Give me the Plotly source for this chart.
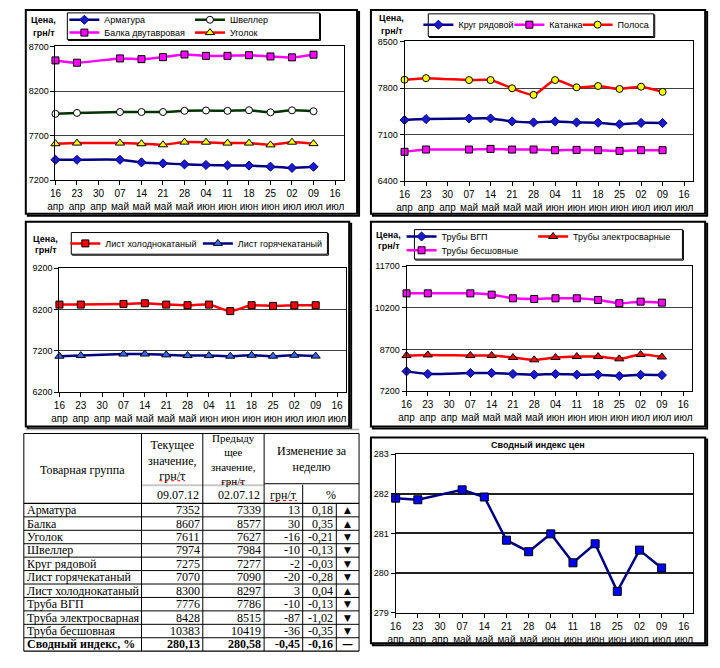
import plotly.graph_objects as go

W, H = 720, 668
def fx(p): return p / W
def fy(p): return 1 - p / H

# ---------------- data ----------------
dates = ["2012-04-16", "2012-04-23", "2012-05-07", "2012-05-14", "2012-05-21", "2012-05-28",
         "2012-06-04", "2012-06-11", "2012-06-18", "2012-06-25", "2012-07-02", "2012-07-09"]
tick_dates = ["2012-04-16", "2012-04-23", "2012-04-30", "2012-05-07", "2012-05-14", "2012-05-21",
              "2012-05-28", "2012-06-04", "2012-06-11", "2012-06-18", "2012-06-25", "2012-07-02",
              "2012-07-09", "2012-07-16"]
tick_labels = ["16<br>апр", "23<br>апр", "30<br>апр", "07<br>май", "14<br>май", "21<br>май",
               "28<br>май", "04<br>июн", "11<br>июн", "18<br>июн", "25<br>июн", "02<br>июл",
               "09<br>июл", "16<br>июл"]

armatura = [7430, 7430, 7430, 7401, 7390, 7379, 7372, 7368, 7365, 7353, 7339, 7352]
balka = [8543, 8517, 8565, 8557, 8579, 8609, 8594, 8594, 8601, 8587, 8577, 8607]
shveller = [7945, 7955, 7965, 7965, 7965, 7978, 7982, 7978, 7985, 7962, 7984, 7974]
ugolok = [7610, 7617, 7617, 7610, 7598, 7628, 7627, 7617, 7617, 7597, 7627, 7611]

krug = [7320, 7334, 7344, 7344, 7300, 7285, 7300, 7285, 7280, 7256, 7277, 7275]
katanka = [6843, 6877, 6877, 6887, 6877, 6877, 6867, 6872, 6867, 6857, 6867, 6867]
polosa = [7925, 7949, 7920, 7920, 7797, 7698, 7920, 7811, 7831, 7787, 7821, 7743]

list_hk = [8316, 8316, 8332, 8347, 8316, 8300, 8316, 8158, 8300, 8284, 8297, 8300]
list_gk = [7068, 7083, 7120, 7120, 7100, 7083, 7083, 7068, 7090, 7068, 7090, 7070]

truby_vgp = [7911, 7817, 7852, 7852, 7817, 7793, 7817, 7793, 7793, 7745, 7786, 7776]
truby_es = [8480, 8503, 8480, 8480, 8409, 8326, 8409, 8444, 8444, 8361, 8515, 8428]
truby_bs = [10717, 10717, 10717, 10670, 10540, 10516, 10540, 10540, 10480, 10362, 10419, 10383]

index_vals = [281.89, 281.85, 282.10, 281.92, 280.83, 280.54, 280.99, 280.26, 280.74, 279.54, 280.58, 280.13]

# table
table_groups = ["Арматура", "Балка", "Уголок", "Швеллер", "Круг рядовой", "Лист горячекатаный",
                "Лист холоднокатаный", "Труба ВГП", "Труба электросварная", "Труба бесшовная"]
table_current = [7352, 8607, 7611, 7974, 7275, 7070, 8300, 7776, 8428, 10383]
table_previous = [7339, 8577, 7627, 7984, 7277, 7090, 8297, 7786, 8515, 10419]
table_change = [13, 30, -16, -10, -2, -20, 3, -10, -87, -36]
table_pct = [0.18, 0.35, -0.21, -0.13, -0.03, -0.28, 0.04, -0.13, -1.02, -0.35]
table_arrow = ["▲", "▲", "▼", "▼", "▼", "▼", "▲", "▼", "▼", "▼"]
summary_name = "Сводный индекс, %"
summary_current = 280.13
summary_previous = 280.58
summary_change = -0.45
summary_pct = -0.16
summary_arrow = "—"
date_current = "09.07.12"
date_previous = "02.07.12"

# ---------------- styling ----------------
SANS = "Liberation Sans"
SERIF = "Liberation Serif"
NAVY = "#000080"
BLUE = "#0000ff"
MAG = "#ff00ff"
RED = "#ff0000"
GREEN = "#003300"

fig = go.Figure()

# series: (name, values, axis idx, line color, marker symbol, marker fill, text_x, text_y, size)
series = [
    ("Арматура", armatura, 1, NAVY, "diamond", "#1a1acc", 97, 15, 7),
    ("Балка двутавровая", balka, 1, MAG, "square", MAG, 97, 28, 7),
    ("Швеллер", shveller, 1, GREEN, "circle", "white", 224, 15, 7),
    ("Уголок", ugolok, 1, RED, "triangle-up", "#ffff00", 224, 28, 8),
    ("Круг рядовой", krug, 2, NAVY, "diamond", "#1a1acc", 455, 20, 7),
    ("Катанка", katanka, 2, MAG, "square", MAG, 547, 20, 7),
    ("Полоса", polosa, 2, RED, "circle", "#ffff00", 616, 20, 7),
    ("Лист холоднокатаный", list_hk, 3, RED, "square", RED, 98, 242, 7),
    ("Лист горячекатаный", list_gk, 3, NAVY, "triangle-up", "#3366ff", 232, 242, 8),
    ("Трубы ВГП", truby_vgp, 4, NAVY, "diamond", "#1a1acc", 438, 235, 7),
    ("Трубы электросварные", truby_es, 4, RED, "triangle-up", RED, 571, 235, 8),
    ("Трубы бесшовные", truby_bs, 4, MAG, "square", MAG, 438, 249, 7),
]

legends = {}
for i, (name, vals, ax, lc, sym, mf, tx, ty, ms) in enumerate(series):
    lid = "legend" if i == 0 else f"legend{i+1}"
    suffix = "" if ax == 1 else str(ax)
    fig.add_trace(go.Scatter(
        x=dates, y=vals, name=name, mode="lines+markers",
        line=dict(color=lc, width=2.5, shape="spline", smoothing=0.6),
        marker=dict(symbol=sym, size=ms, color=mf,
                    line=dict(color="black" if mf != "#1a1acc" else lc, width=1)),
        xaxis="x" + suffix, yaxis="y" + suffix, legend=lid, cliponaxis=False,
        hoverinfo="skip"))
    legends[lid] = dict(x=fx(tx - 40), y=fy(ty), xanchor="left", yanchor="middle",
                        bgcolor="rgba(0,0,0,0)", borderwidth=0, itemwidth=30,
                        font=dict(family=SANS, size=9, color="black"),
                        itemclick=False, itemdoubleclick=False)

fig.add_trace(go.Scatter(
    x=dates, y=index_vals, name="Сводный индекс цен", mode="lines+markers",
    line=dict(color=NAVY, width=2.5), showlegend=False,
    marker=dict(symbol="square", size=8, color=BLUE, line=dict(color="black", width=1)),
    xaxis="x5", yaxis="y5", cliponaxis=False, hoverinfo="skip"))

# ---------------- axes ----------------
def xax(x0, x1, anchor):
    return dict(type="date", domain=[fx(x0), fx(x1)], range=["2012-04-16", "2012-07-19"],
                tickmode="array", tickvals=tick_dates, ticktext=tick_labels,
                ticks="outside", ticklen=4, tickcolor="black", showline=True,
                linecolor="black", linewidth=1, mirror=True, showgrid=False, zeroline=False,
                tickfont=dict(family=SANS, size=10, color="black"), anchor=anchor,
                fixedrange=True)

def yax(y_top, y_bot, rng, tv, anchor, gridw=1, gridc="#404040"):
    return dict(domain=[fy(y_bot), fy(y_top)], range=rng, tickmode="array", tickvals=tv,
                ticktext=[str(v) for v in tv], ticks="outside", ticklen=4, tickcolor="black",
                showline=True, linecolor="black", linewidth=1, mirror=True, showgrid=True,
                gridcolor=gridc, gridwidth=gridw, zeroline=False,
                tickfont=dict(family=SANS, size=9, color="black"), anchor=anchor,
                fixedrange=True)

layout = dict(
    width=W, height=H, margin=dict(l=0, r=0, t=0, b=0), autosize=False,
    paper_bgcolor="white", plot_bgcolor="white",
    xaxis=xax(48, 340, "y"), yaxis=yax(42, 178, [7200, 8700], [7200, 7700, 8200, 8700], "x"),
    xaxis2=xax(401, 693, "y2"), yaxis2=yax(37, 179, [6400, 8500], [6400, 7100, 7800, 8500], "x2"),
    xaxis3=xax(52, 342, "y3"), yaxis3=yax(267, 393, [6200, 9200], [6200, 7200, 8200, 9200], "x3"),
    xaxis4=xax(403, 692, "y4"), yaxis4=yax(265, 392, [7200, 11700], [7200, 8700, 10200, 11700], "x4"),
    xaxis5=xax(392, 693, "y5"), yaxis5=yax(456, 617, [279, 283], [279, 280, 281, 282, 283], "x5",
                                            gridw=1.5, gridc="#202020"),
)
layout.update(legends)
fig.update_layout(**layout)

# ---------------- frames, legend boxes, text ----------------
shapes = []
annots = []

def rect(x0, y0, x1, y1, w=1, color="black", fill=None):
    shapes.append(dict(type="rect", xref="paper", yref="paper", x0=fx(x0), x1=fx(x1),
                       y0=fy(y1), y1=fy(y0), line=dict(color=color, width=w),
                       fillcolor=fill if fill else "rgba(0,0,0,0)", layer="below"))

def hline(x0, x1, y, w=1, color="black", dash="solid"):
    shapes.append(dict(type="line", xref="paper", yref="paper", x0=fx(x0), x1=fx(x1),
                       y0=fy(y), y1=fy(y), line=dict(color=color, width=w, dash=dash)))

def vline(x, y0, y1, w=1, color="black"):
    shapes.append(dict(type="line", xref="paper", yref="paper", x0=fx(x), x1=fx(x),
                       y0=fy(y0), y1=fy(y1), line=dict(color=color, width=w)))

def text(x, y, s, size=12, family=SERIF, anchor="center", bold=False, color="black"):
    if bold:
        s = "<b>" + s + "</b>"
    annots.append(dict(xref="paper", yref="paper", x=fx(x), y=fy(y), text=s, showarrow=False,
                       xanchor=anchor, yanchor="middle", align="center",
                       font=dict(family=family, size=size, color=color)))

# panel frames with shadow
for (x0, y0, x1, y1) in [(18, 5, 353, 212), (367, 5, 705, 212), (18, 220, 345, 428),
                         (367, 220, 705, 428), (367, 439, 705, 648)]:
    rect(x0 + 2, y0 + 2, x1 + 2, y1 + 2, w=2, color="#000000")
    rect(x0, y0, x1, y1, w=2, color="black", fill="white")

# legend boxes
for (x0, y0, x1, y1) in [(60, 8, 315, 35), (425, 9, 653, 32), (64, 231, 323, 253), (411, 228, 682, 258)]:
    rect(x0 + 1, y0 + 1, x1 + 1, y1 + 1, w=1, color="#000000")
    rect(x0, y0, x1, y1, w=1, color="black", fill="white")

# y-axis title
for (xc, y1, y2) in [(36, 15, 28), (388, 13, 26), (38, 238, 249), (385, 233, 245)]:
    text(xc, y1, "Цена,", size=9, family=SANS, bold=True)
    text(xc, y2, "грн/т", size=9, family=SANS, bold=True)

text(536, 447, "Сводный индекс цен", size=9, family=SANS, bold=True)

# ---------------- table ----------------
TL, TR = 16, 355
c1, c2, c3, c4, c5 = 135, 197, 259, 298, 332
t_top, h1_bot, h2_bot, t_bot = 435, 486, 506, 656
n_rows = len(table_groups) + 1
rh = (t_bot - h2_bot) / n_rows

hline(18, TR, 431, w=1.5, color="#b0b0b0")
hline(TL, TR, t_top, w=1)
hline(c1, c3, 487.5, w=2, color="#c8c8c8")
hline(c3, TR, 486, w=1)
hline(TL, TR, h2_bot, w=1.2)
for k in range(1, n_rows):
    hline(TL, TR, h2_bot + k * rh, w=1)
hline(TL, TR, t_bot, w=1.2)
vline(TL, t_top, t_bot)
vline(TR, t_top, t_bot)
vline(c1, t_top, t_bot)
vline(c2, t_top, t_bot)
vline(c3, t_top, t_bot)
vline(c4, 487, t_bot)
vline(c5, h2_bot, t_bot)

# header (multi-line blocks)
HF = 12
text((TL + c1) / 2, 472, "Товарная группа", size=HF)
text((c1 + c2) / 2, 462, "Текущее<br>значение,<br>грн/т", size=HF)
text((c2 + c3) / 2, 461, "Предыду<br>щее<br>значение,<br>грн/т", size=11)
text((c3 + TR) / 2, 461, "Изменение за<br>неделю", size=HF)
text(c2 - 2, 497, date_current, anchor="right", size=HF)
text(c3 - 2, 497, date_previous, anchor="right", size=HF)
text((c3 + c4) / 2, 497, "грн/т", size=HF)
text((c4 + TR) / 2, 497, "%", size=HF)
# spell-check underlines under "грн/т"
hline(153, 179, 483, w=1, color="#e00000", dash="dot")
hline(216, 240, 485, w=1, color="#e00000", dash="dot")
hline(266, 292, 503, w=1, color="#e00000", dash="dot")

def fmt2(v):
    return f"{v:.2f}".replace(".", ",")

for i, g in enumerate(table_groups):
    yc = h2_bot + (i + 0.5) * rh
    text(TL + 1, yc, g, anchor="left")
    text(c2 - 1, yc, str(table_current[i]), anchor="right")
    text(c3 - 1, yc, str(table_previous[i]), anchor="right")
    text(c4 - 1, yc, str(table_change[i]), anchor="right")
    text(c5 - 1, yc, fmt2(table_pct[i]), anchor="right")
    text((c5 + TR) / 2, yc, table_arrow[i], size=9, family="DejaVu Sans")

yc = h2_bot + (n_rows - 0.5) * rh
text(TL + 1, yc, summary_name, anchor="left", bold=True)
text(c2 - 1, yc, fmt2(summary_current), anchor="right", bold=True)
text(c3 - 1, yc, fmt2(summary_previous), anchor="right", bold=True)
text(c4 - 1, yc, fmt2(summary_change), anchor="right", bold=True)
text(c5 - 1, yc, fmt2(summary_pct), anchor="right", bold=True)
text((c5 + TR) / 2, yc, summary_arrow, size=11, family="DejaVu Sans", bold=True)

fig.update_layout(shapes=shapes, annotations=annots)
fig.write_html("out.html", config={"displayModeBar": False},
               post_script="document.body.style.margin='0';document.body.style.overflow='hidden';")
